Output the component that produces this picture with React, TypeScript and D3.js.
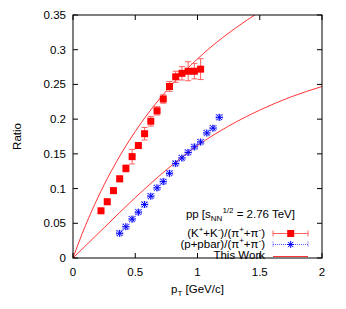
import React from 'react';
import * as d3 from 'd3';

// ---- data ----
const kpiX = [0.225, 0.275, 0.325, 0.375, 0.425, 0.475, 0.525, 0.575, 0.625, 0.675, 0.725, 0.775, 0.825, 0.875, 0.925, 0.975, 1.025];
const kpiY = [0.068, 0.081, 0.097, 0.114, 0.129, 0.146, 0.162, 0.179, 0.197, 0.212, 0.229, 0.247, 0.261, 0.266, 0.269, 0.269, 0.272];
const kpiErr = [0.003, 0.004, 0.004, 0.004, 0.005, 0.0105, 0.004, 0.009, 0.007, 0.006, 0.006, 0.007, 0.008, 0.0096, 0.0137, 0.011, 0.015];

const ppiX = [0.375, 0.425, 0.475, 0.525, 0.575, 0.625, 0.675, 0.725, 0.775, 0.825, 0.875, 0.925, 0.975, 1.025, 1.075, 1.125, 1.175];
const ppiY = [0.0356, 0.045, 0.056, 0.066, 0.077, 0.089, 0.101, 0.110, 0.122, 0.136, 0.144, 0.152, 0.160, 0.167, 0.180, 0.187, 0.2026];
const ppiErr = [0.004, 0.004, 0.004, 0.004, 0.004, 0.004, 0.004, 0.004, 0.004, 0.004, 0.004, 0.004, 0.004, 0.004, 0.004, 0.004, 0.004];

const binHalf = 0.025;

const upperX = [0, 0.05, 0.1, 0.2, 0.3, 0.4, 0.5, 0.6, 0.7, 0.8, 0.9, 1.0, 1.1, 1.2, 1.3, 1.4, 1.5];
const upperY = [0, 0.0241, 0.0466, 0.0871, 0.1227, 0.1542, 0.1823, 0.2075, 0.2302, 0.2509, 0.2697, 0.2868, 0.3026, 0.3171, 0.3305, 0.343, 0.3545];
const lowerX = [0, 0.25, 0.5, 0.75, 1.0, 1.25, 1.5, 1.75, 2.0];
const lowerY = [0, 0.0437, 0.087, 0.127, 0.162, 0.19, 0.213, 0.232, 0.247];

const xTicks = [0, 0.5, 1, 1.5, 2];
const yTicks = [0, 0.05, 0.1, 0.15, 0.2, 0.25, 0.3, 0.35];

const W = 346, H = 309;
const L = 73, R = 322, T = 15, B = 258;
const FONT = '"Liberation Sans", Arial, Helvetica, sans-serif';
const FS = 11.5;
const RED = '#ff0000';
const BLUE = '#0000ff';

export default function App() {
  const x = d3.scaleLinear().domain([0, 2]).range([L, R]);
  const y = d3.scaleLinear().domain([0, 0.35]).range([B, T]);
  const line = d3.line<[number, number]>().x(d => x(d[0])).y(d => y(d[1])).curve(d3.curveMonotoneX);
  const upper = line(upperX.map((v, i) => [v, upperY[i]]) as [number, number][]) || '';
  const lower = line(lowerX.map((v, i) => [v, lowerY[i]]) as [number, number][]) || '';
  const tick = 5;
  const cap = 3;

  const star = (cx: number, cy: number, r: number, key: string) => (
    <g key={key} stroke={BLUE} strokeWidth={1}>
      <line x1={cx - r} y1={cy} x2={cx + r} y2={cy} />
      <line x1={cx} y1={cy - r} x2={cx} y2={cy + r} />
      <line x1={cx - r * 0.75} y1={cy - r * 0.75} x2={cx + r * 0.75} y2={cy + r * 0.75} />
      <line x1={cx - r * 0.75} y1={cy + r * 0.75} x2={cx + r * 0.75} y2={cy - r * 0.75} />
    </g>
  );

  const legX1 = 273, legX2 = 308, legM = 290.7;

  return (
    <svg width={W} height={H} style={{ position: 'absolute', left: 0, top: 0, background: '#fff' }}
      fontFamily={FONT} fontSize={FS}>
      <defs>
        <clipPath id="plot"><rect x={L} y={T} width={R - L} height={B - T} /></clipPath>
      </defs>
      <rect x={0} y={0} width={W} height={H} fill="#fff" />

      {/* curves */}
      <g clipPath="url(#plot)" fill="none" stroke={RED} strokeWidth={0.8}>
        <path d={upper} />
        <path d={lower} />
      </g>

      {/* p/pi error bars + stars */}
      <g stroke="#5a5aff" strokeWidth={1} strokeDasharray="1,1" fill="none">
        {ppiX.map((v, i) => {
          const cx = x(v), cy = y(ppiY[i]);
          const x0 = x(v - binHalf), x1 = x(v + binHalf);
          const y0 = y(ppiY[i] - ppiErr[i]), y1 = y(ppiY[i] + ppiErr[i]);
          return (
            <g key={'pe' + i}>
              <line x1={x0} y1={cy} x2={x1} y2={cy} />
              <line x1={cx} y1={y0} x2={cx} y2={y1} />
              <line x1={x0} y1={cy - cap} x2={x0} y2={cy + cap} />
              <line x1={x1} y1={cy - cap} x2={x1} y2={cy + cap} />
              <line x1={cx - cap} y1={y0} x2={cx + cap} y2={y0} />
              <line x1={cx - cap} y1={y1} x2={cx + cap} y2={y1} />
            </g>
          );
        })}
      </g>
      {ppiX.map((v, i) => star(x(v), y(ppiY[i]), 3.5, 'ps' + i))}

      {/* K/pi error bars + squares */}
      <g stroke="#ff6060" strokeWidth={1} fill="none">
        {kpiX.map((v, i) => {
          const cx = x(v), cy = y(kpiY[i]);
          const x0 = x(v - binHalf), x1 = x(v + binHalf);
          const y0 = y(kpiY[i] - kpiErr[i]), y1 = y(kpiY[i] + kpiErr[i]);
          return (
            <g key={'ke' + i}>
              <line x1={x0} y1={cy} x2={x1} y2={cy} />
              <line x1={cx} y1={y0} x2={cx} y2={y1} />
              <line x1={cx - cap} y1={y0} x2={cx + cap} y2={y0} />
              <line x1={cx - cap} y1={y1} x2={cx + cap} y2={y1} />
            </g>
          );
        })}
      </g>
      {kpiX.map((v, i) => (
        <rect key={'ks' + i} x={x(v) - 3.5} y={y(kpiY[i]) - 3.5} width={7} height={7} fill={RED} />
      ))}

      {/* frame and ticks */}
      <g stroke="#000" strokeWidth={1} fill="none">
        <rect x={L} y={T} width={R - L} height={B - T} />
        {xTicks.map(t => (
          <g key={'xt' + t}>
            <line x1={x(t)} y1={B} x2={x(t)} y2={B - tick} />
            <line x1={x(t)} y1={T} x2={x(t)} y2={T + tick} />
          </g>
        ))}
        {yTicks.map(t => (
          <g key={'yt' + t}>
            <line x1={L} y1={y(t)} x2={L + tick} y2={y(t)} />
            <line x1={R} y1={y(t)} x2={R - tick} y2={y(t)} />
          </g>
        ))}
      </g>
      {xTicks.map(t => (
        <text key={'xl' + t} x={x(t)} y={B + 18} textAnchor="middle">{d3.format('')(t)}</text>
      ))}
      {yTicks.map(t => (
        <text key={'yl' + t} x={L - 7} y={y(t) + 4} textAnchor="end">{d3.format('')(t)}</text>
      ))}

      {/* axis titles */}
      <text x={(L + R) / 2} y={293} textAnchor="middle">
        p<tspan fontSize={8} dy={3}>T</tspan><tspan dy={-3}> [GeV/c]</tspan>
      </text>
      <text transform={`translate(21,${(T + B) / 2}) rotate(-90)`} textAnchor="middle">Ratio</text>

      {/* legend */}
      <text x={295} y={218} textAnchor="end">
        pp [s<tspan fontSize={8} dy={3}>NN</tspan><tspan fontSize={8} dy={-8}>1/2</tspan><tspan dy={5}> = 2.76 TeV]</tspan>
      </text>
      <text x={265} y={237} textAnchor="end">
        (K<tspan fontSize={8} dy={-5}>+</tspan><tspan dy={5}>+K</tspan><tspan fontSize={8} dy={-5}>-</tspan><tspan dy={5}>)/(π</tspan><tspan fontSize={8} dy={-5}>+</tspan><tspan dy={5}>+π</tspan><tspan fontSize={8} dy={-5}>-</tspan><tspan dy={5}>)</tspan>
      </text>
      <text x={265} y={248} textAnchor="end">
        (p+pbar)/(π<tspan fontSize={8} dy={-5}>+</tspan><tspan dy={5}>+π</tspan><tspan fontSize={8} dy={-5}>-</tspan><tspan dy={5}>)</tspan>
      </text>
      <text x={265} y={259} textAnchor="end">This Work</text>

      <g stroke="#ff6060" strokeWidth={1}>
        <line x1={legX1} y1={233.5} x2={legX2} y2={233.5} />
        <line x1={legX1} y1={230.5} x2={legX1} y2={236.5} />
        <line x1={legX2} y1={230.5} x2={legX2} y2={236.5} />
      </g>
      <rect x={legM - 3.5} y={230} width={7} height={7} fill={RED} />
      <g stroke="#5a5aff" strokeWidth={1} strokeDasharray="1,1">
        <line x1={legX1} y1={244.5} x2={legX2} y2={244.5} />
        <line x1={legX1} y1={241.5} x2={legX1} y2={247.5} />
        <line x1={legX2} y1={241.5} x2={legX2} y2={247.5} />
      </g>
      {star(legM, 244.5, 3.5, 'legstar')}
      <line x1={legX1} y1={256.5} x2={legX2} y2={256.5} stroke={RED} strokeWidth={0.8} />
    </svg>
  );
}
